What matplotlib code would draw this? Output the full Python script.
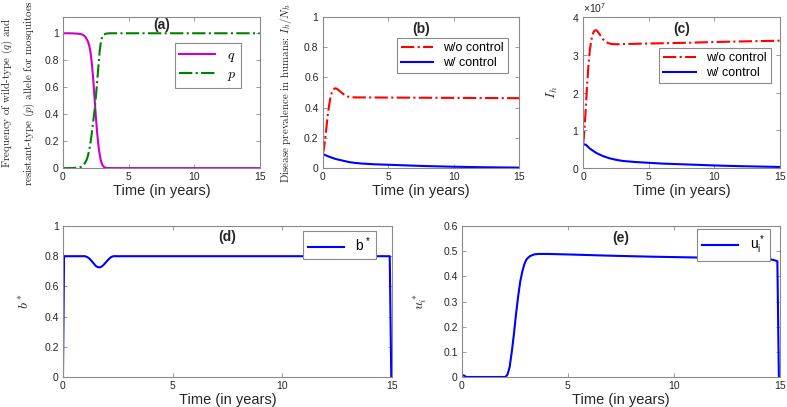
import numpy as np
import matplotlib
matplotlib.use('Agg')
import matplotlib.pyplot as plt
from matplotlib.ticker import FuncFormatter, ScalarFormatter
from matplotlib.font_manager import FontProperties

plt.rcParams['font.family'] = 'Liberation Sans'
plt.rcParams['mathtext.fontset'] = 'custom'
plt.rcParams['mathtext.rm'] = 'Liberation Sans'
plt.rcParams['mathtext.it'] = 'Liberation Sans'
plt.rcParams['mathtext.bf'] = 'Liberation Sans:bold'

# (a) allele frequencies
t_q = [0, 0.5, 1.0, 1.3, 1.5, 1.7, 1.9, 2.0, 2.1, 2.2, 2.3, 2.4, 2.5, 2.6, 2.7, 2.8, 2.9, 3.0, 3.1, 3.2, 3.4, 3.6, 4, 15]
q = [1, 1, 0.998, 0.995, 0.99, 0.975, 0.94, 0.91, 0.86, 0.78, 0.67, 0.53, 0.39, 0.27, 0.17, 0.10, 0.05, 0.025, 0.01, 0.004, 0.001, 0, 0, 0]
t_p = [0, 0.5, 1.0, 1.2, 1.4, 1.6, 1.8, 1.9, 2.0, 2.1, 2.2, 2.3, 2.4, 2.5, 2.6, 2.7, 2.8, 2.9, 3.0, 3.1, 3.3, 3.6, 15]
p = [0, 0, 0.002, 0.005, 0.01, 0.025, 0.06, 0.09, 0.13, 0.19, 0.26, 0.34, 0.42, 0.52, 0.63, 0.75, 0.87, 0.94, 0.975, 0.99, 0.998, 1, 1]

# (b) prevalence I_h/N_h
t_b_no = [0, 0.1, 0.2, 0.3, 0.4, 0.5, 0.6, 0.7, 0.8, 0.9, 1.0, 1.1, 1.3, 1.5, 1.7, 1.9, 2.2, 2.6, 3, 5, 10, 15]
prev_no = [0.09, 0.13, 0.2, 0.28, 0.36, 0.42, 0.47, 0.50, 0.518, 0.527, 0.528, 0.524, 0.51, 0.495, 0.482, 0.474, 0.469, 0.468, 0.468, 0.467, 0.465, 0.463]
t_b_w = [0, 0.5, 1, 1.5, 2, 2.5, 3, 4, 5, 6, 7, 8, 10, 12, 15]
prev_w = [0.093, 0.075, 0.06, 0.05, 0.04, 0.034, 0.03, 0.025, 0.022, 0.019, 0.016, 0.013, 0.009, 0.006, 0.003]

# (c) I_h (x 1e7)
t_c_no = [0, 0.1, 0.2, 0.3, 0.4, 0.5, 0.6, 0.7, 0.8, 0.9, 1.0, 1.1, 1.3, 1.5, 1.7, 1.9, 2.2, 2.6, 3, 5, 8, 10, 12, 15]
ih_no = [0.63, 1.0, 1.6, 2.2, 2.7, 3.1, 3.35, 3.52, 3.61, 3.65, 3.65, 3.62, 3.52, 3.42, 3.35, 3.31, 3.285, 3.28, 3.285, 3.30, 3.32, 3.34, 3.355, 3.375]
t_c_w = [0, 0.2, 0.5, 1, 1.5, 2, 2.5, 3, 4, 5, 6, 8, 10, 12, 15]
ih_w = [0.63, 0.62, 0.52, 0.40, 0.32, 0.26, 0.22, 0.19, 0.16, 0.14, 0.12, 0.095, 0.07, 0.05, 0.03]

# (d) b*
t_d = [0, 0.05, 1.0, 1.1, 1.2, 1.3, 1.4, 1.5, 1.6, 1.7, 1.8, 1.9, 2.0, 2.1, 2.2, 2.3, 14.9, 14.97]
bstar = [0, 0.8, 0.8, 0.795, 0.785, 0.77, 0.752, 0.735, 0.727, 0.727, 0.735, 0.75, 0.767, 0.782, 0.795, 0.8, 0.8, 0]

# (e) u_i*
t_e = [0, 0.1, 0.2, 2.05, 2.15, 2.25, 2.35, 2.45, 2.55, 2.65, 2.75, 2.85, 2.95, 3.05, 3.2, 3.4, 3.6, 4, 5, 7, 9, 11, 13, 14, 14.4, 14.7, 14.88, 14.95]
ustar = [0.007, 0.006, 0, 0, 0.01, 0.04, 0.1, 0.17, 0.25, 0.32, 0.38, 0.42, 0.45, 0.468, 0.48, 0.487, 0.489, 0.489, 0.487, 0.482, 0.478, 0.475, 0.474, 0.473, 0.47, 0.465, 0.46, 0]

spine_col = '#8a8a8a'
txt_col = '#262626'
xlab = 'Time (in years)'

fig = plt.figure(figsize=(7.87, 4.07), dpi=100)

def mkax(rect):
    ax = fig.add_axes(rect)
    for s in ax.spines.values():
        s.set_color(spine_col)
        s.set_linewidth(0.8)
    ax.tick_params(direction='in', top=True, right=True, length=3, width=0.6,
                   color=spine_col, labelcolor=txt_col, labelsize=7.5, pad=3)
    ax.set_xlim(0, 15)
    ax.set_xticks([0, 5, 10, 15])
    ax.xaxis.set_major_formatter(FuncFormatter(lambda v, pos: '%g' % v))
    return ax

def leg(ax, anchor, **kw):
    l = ax.legend(loc='upper right', bbox_to_anchor=anchor, fancybox=False,
                  framealpha=1, edgecolor=spine_col, borderaxespad=0,
                  handlelength=2.6, borderpad=0.35, labelspacing=0.2, **kw)
    l.get_frame().set_linewidth(0.8)
    return l

serif = dict(fontfamily='cmr10', math_fontfamily='cm', color=txt_col)
gfmt = FuncFormatter(lambda v, pos: '%g' % v)

# (a)
ax = mkax([0.080, 0.587, 0.250, 0.371])
ax.plot(t_q, q, color='#cc00cc', lw=1.5, label='$q$')
ax.plot(t_p, p, color='#008000', lw=1.5, ls='-.', label='$p$')
ax.set_ylim(0, 1.12)
ax.set_yticks([0, 0.2, 0.4, 0.6, 0.8, 1])
ax.yaxis.set_major_formatter(gfmt)
leg(ax, (0.904, 0.828), prop=FontProperties(size=10, math_fontfamily='cm'))
ax.text(0.5, 0.947, '(a)', transform=ax.transAxes, ha='center', va='center', fontsize=10, fontweight='bold', color=txt_col)
ax.set_ylabel('Frequency of wild-type $(q)$ and\nresistant-type $(p)$ allele for mosquitoes',
              fontsize=7.9, linespacing=1.65, **serif)
ax.yaxis.set_label_coords(-0.132, 0.5)
ax.set_xlabel(xlab, fontsize=10.5, color=txt_col)
ax.xaxis.set_label_coords(0.5, -0.106)

# (b)
ax = mkax([0.410, 0.587, 0.250, 0.371])
ax.plot(t_b_no, prev_no, color='red', lw=1.5, ls='-.', label='w/o control')
ax.plot(t_b_w, prev_w, color='blue', lw=1.5, label='w/ control')
ax.set_ylim(0, 1)
ax.set_yticks([0, 0.2, 0.4, 0.6, 0.8, 1])
ax.yaxis.set_major_formatter(gfmt)
leg(ax, (0.944, 0.861), fontsize=9)
ax.text(0.5, 0.92, '(b)', transform=ax.transAxes, ha='center', va='center', fontsize=10, fontweight='bold', color=txt_col)
ax.set_ylabel('Disease prevalence in humans: $I_h/N_h$', fontsize=7.9, **serif)
ax.yaxis.set_label_coords(-0.147, 0.5)
ax.set_xlabel(xlab, fontsize=10.5, color=txt_col)
ax.xaxis.set_label_coords(0.5, -0.106)

# (c)
ax = mkax([0.741, 0.587, 0.250, 0.371])
ax.plot(t_c_no, np.array(ih_no) * 1e7, color='red', lw=1.5, ls='-.', label='w/o control')
ax.plot(t_c_w, np.array(ih_w) * 1e7, color='blue', lw=1.5, label='w/ control')
ax.set_ylim(0, 4e7)
ax.set_yticks([0, 1e7, 2e7, 3e7, 4e7])
sf = ScalarFormatter(useMathText=True)
sf.set_powerlimits((0, 0))
ax.yaxis.set_major_formatter(sf)
ax.yaxis.get_offset_text().set_fontsize(7.5)
ax.yaxis.get_offset_text().set_color(txt_col)
leg(ax, (0.954, 0.795), fontsize=9)
ax.text(0.5, 0.92, '(c)', transform=ax.transAxes, ha='center', va='center', fontsize=10, fontweight='bold', color=txt_col)
ax.set_ylabel('$I_h$', fontsize=10, **serif)
ax.yaxis.set_label_coords(-0.12, 0.5)
ax.set_xlabel(xlab, fontsize=10.5, color=txt_col)
ax.xaxis.set_label_coords(0.5, -0.106)

# (d)
ax = mkax([0.080, 0.0737, 0.418, 0.371])
ax.plot(t_d, bstar, color='blue', lw=1.5, label='$b^*$')
ax.set_ylim(0, 1)
ax.set_yticks([0, 0.2, 0.4, 0.6, 0.8, 1])
ax.yaxis.set_major_formatter(gfmt)
leg(ax, (0.951, 0.967), fontsize=10)
ax.text(0.5, 0.927, '(d)', transform=ax.transAxes, ha='center', va='center', fontsize=10, fontweight='bold', color=txt_col)
ax.set_ylabel('$b^*$', fontsize=10, **serif)
ax.yaxis.set_label_coords(-0.094, 0.5)
ax.set_xlabel(xlab, fontsize=10.5, color=txt_col)
ax.xaxis.set_label_coords(0.5, -0.108)

# (e)
ax = mkax([0.587, 0.0737, 0.404, 0.371])
ax.plot(t_e, ustar, color='blue', lw=1.5, label='$u_i^*$')
ax.set_ylim(0, 0.6)
ax.set_yticks([0, 0.1, 0.2, 0.3, 0.4, 0.5, 0.6])
ax.yaxis.set_major_formatter(gfmt)
leg(ax, (0.969, 0.98), fontsize=10)
ax.text(0.5, 0.92, '(e)', transform=ax.transAxes, ha='center', va='center', fontsize=10, fontweight='bold', color=txt_col)
ax.set_ylabel('$u_i^*$', fontsize=10, **serif)
ax.yaxis.set_label_coords(-0.104, 0.5)
ax.set_xlabel(xlab, fontsize=10.5, color=txt_col)
ax.xaxis.set_label_coords(0.5, -0.108)

fig.savefig('out.png', dpi=100)
